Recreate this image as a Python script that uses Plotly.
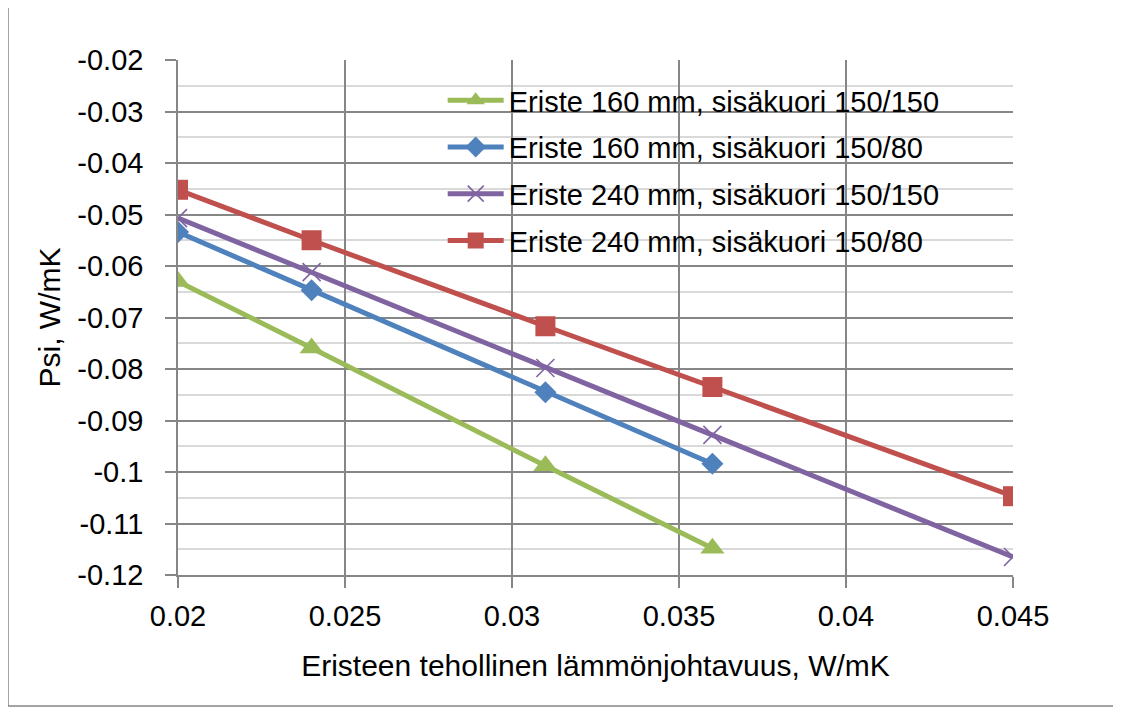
import plotly.graph_objects as go

x_160 = [0.02, 0.024, 0.031, 0.036]
x_240 = [0.02, 0.024, 0.031, 0.036, 0.045]

g_160_150 = [-0.0630, -0.0759, -0.0988, -0.1148]
b_160_80 = [-0.0534, -0.0647, -0.0845, -0.0984]
p_240_150 = [-0.0507, -0.0612, -0.0798, -0.0928, -0.1165]
r_240_80 = [-0.0452, -0.0550, -0.0717, -0.0835, -0.1047]

names = ["Eriste 160 mm, sisäkuori 150/150", "Eriste 160 mm, sisäkuori 150/80",
         "Eriste 240 mm, sisäkuori 150/150", "Eriste 240 mm, sisäkuori 150/80"]

y_tickvals = [-0.02, -0.03, -0.04, -0.05, -0.06, -0.07, -0.08, -0.09, -0.1, -0.11, -0.12]
y_ticktext = ["-0.02", "-0.03", "-0.04", "-0.05", "-0.06", "-0.07", "-0.08", "-0.09", "-0.1", "-0.11", "-0.12"]
x_tickvals = [0.02, 0.025, 0.03, 0.035, 0.04, 0.045]
x_ticktext = ["0.02", "0.025", "0.03", "0.035", "0.04", "0.045"]

FONT = "Liberation Sans, Arial, sans-serif"
GRID = "#868686"

fig = go.Figure()
series = [
    (x_160, g_160_150, names[0], "#9BBB59", dict(symbol="triangle-up", size=21)),
    (x_160, b_160_80, names[1], "#4F81BD", dict(symbol="diamond", size=17)),
    (x_240, p_240_150, names[2], "#8064A2", dict(symbol="x-thin", size=18, line=dict(width=1.6, color="#8064A2"))),
    (x_240, r_240_80, names[3], "#C0504D", dict(symbol="square", size=20)),
]
for i, (xs, ys, nm, col, mk) in enumerate(series):
    mk = dict(mk)
    mk["color"] = col
    fig.add_trace(go.Scatter(x=xs, y=ys, name=nm, mode="lines+markers",
                             line=dict(color=col, width=5), marker=mk,
                             legendgroup=f"g{i}"))

fig.update_layout(
    width=1121, height=710,
    margin=dict(l=170, r=116, t=52, b=143),
    paper_bgcolor="white", plot_bgcolor="white",
    font=dict(family=FONT, size=29, color="black"),
    showlegend=True,
    legend=dict(x=0.317, y=0.971, xanchor="left", yanchor="top",
                bgcolor="rgba(255,255,255,0)", font=dict(size=29),
                itemwidth=56, tracegroupgap=6),
    xaxis=dict(range=[0.02, 0.045], tickvals=x_tickvals, ticktext=x_ticktext,
               showgrid=True, gridcolor=GRID, gridwidth=1.5,
               showline=True, linecolor=GRID, linewidth=1.5,
               ticks="outside", ticklen=11, tickcolor=GRID, tickwidth=1.5,
               ticklabelstandoff=3,
               title=dict(text="Eristeen tehollinen lämmönjohtavuus, W/mK", standoff=24,
                          font=dict(size=30)),
               zeroline=False),
    yaxis=dict(range=[-0.12, -0.02], tickvals=y_tickvals, ticktext=y_ticktext,
               showgrid=True, gridcolor=GRID, gridwidth=1.5,
               showline=True, linecolor=GRID, linewidth=1.5,
               ticks="outside", ticklen=11, tickcolor=GRID, tickwidth=1.5,
               ticklabelstandoff=16,
               minor=dict(dtick=0.005, tick0=-0.12, showgrid=True, gridcolor="#D9D9D9", gridwidth=1.5, ticks=""),
               title=dict(text="Psi, W/mK", standoff=8, font=dict(size=30)),
               zeroline=False),
)

fig.add_shape(type="rect", xref="paper", yref="paper",
              x0=-0.2036, x1=1.1269, y0=-0.2544, y1=1.1107,
              line=dict(color=GRID, width=1.5), fillcolor="rgba(0,0,0,0)", layer="below")

fig.write_html("out.html")
